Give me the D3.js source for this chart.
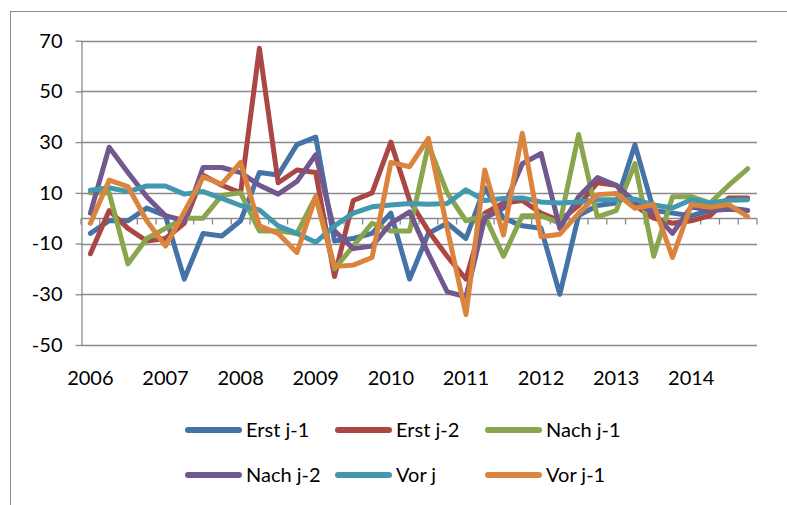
<!DOCTYPE html>
<html lang="de">
<head>
<meta charset="UTF-8" />
<title>Quartalswerte 2006-2014</title>
<script src="https://cdn.jsdelivr.net/npm/d3@7/dist/d3.min.js"></script>
<style>
  body { margin: 0; background: #fff; }
  text { font-family: Lato, "Open Sans", sans-serif; fill: #000; }
</style>
</head>
<body>
<svg id="chart" width="787" height="505"></svg>
<script>
// quarters 2006Q1 .. 2014Q4
var years = ["2006", "2007", "2008", "2009", "2010", "2011", "2012", "2013", "2014"];
var quarters = [];
years.forEach(function(y) { [1, 2, 3, 4].forEach(function(q) { quarters.push(y + "Q" + q); }); });

var seriesNames = ["Erst j-1", "Erst j-2", "Nach j-1", "Nach j-2", "Vor j", "Vor j-1"];
var colors = ["#4572A7", "#AA4643", "#89A54E", "#71588F", "#4198AF", "#DB843D"];

var erstJ1 = [-6, -1, -1, 4, 1, -24, -6, -7, -1, 18, 17, 29, 32, -9, -8, -6, 2, -24,
              -6, -2, -8, 12, 0, -3, -4, -30, 1, 5, 6, 29, 3, 2, 1, 3, 4, 3];
var erstJ2 = [-14, 3, -4, -9, -8, -2, 17, 13, 10, 67, 14, 19, 18, -23, 7, 10, 30, 7,
              -5, -15, -24, 2, 6, 7, 2, -1, 5, 14, 13, 5, 0, -2, -1, 1, 8, 8];
var nachJ1 = [10, 10, -18, -8, -4, 0, 0, 9, 10, -5, -5, -6, 8.5, -20, -11, -2, -5, -5,
              29, 10, -1, 1, -15, 1, 1, -2, 33, 0.5, 3, 21.5, -15, 8.5, 8.5, 6, 13, 19.5];
var nachJ2 = [2, 28, 18, 8.5, 1, -1, 20, 20, 18, 13, 9.5, 14.5, 25, -5, -12, -11, -2, 2.5,
              -14, -29, -31, 0, 4, 21.5, 25.5, -4, 8.5, 16, 13, 6.5, 2, -6, 4.5, 3, 3.5, 3];
var vorJ = [11, 12, 10.5, 12.7, 12.7, 9.5, 10.5, 7.8, 5, 3.3, -3, -6, -9.5, -3, 2, 4.5, 5.2, 5.8,
            5.5, 5.8, 11.2, 7, 7.8, 8, 6.4, 6, 6.4, 7.3, 7.3, 7.5, 5.2, 4, 7.3, 6, 7.1, 7.3];
var vorJ1 = [-2, 15, 12.5, -1, -11, 2.5, 16.3, 13.4, 22, -3, -6, -13.5, 8.5, -19, -18.5, -15.5, 22, 20.3,
             31.5, -4, -38, 19, -6.6, 33.5, -7.3, -6.3, 1.9, 9.3, 9.7, 3.9, 5.4, -15.5, 5.4, 4.3, 5.4, 0.6];

var yTicks = [-50, -30, -10, 10, 30, 50, 70];

var allSeries = [erstJ1, erstJ2, nachJ1, nachJ2, vorJ, vorJ1];

var svg = d3.select("#chart");

// outer chart frame (continues past right/bottom edge)
svg.append("rect")
  .attr("x", 10.5).attr("y", 11.5)
  .attr("width", 800).attr("height", 520)
  .attr("fill", "none").attr("stroke", "#8c8c8c").attr("stroke-width", 1);

var plot = {left: 81, right: 757, top: 40.7, bottom: 345};

var x = d3.scaleBand().domain(d3.range(quarters.length)).range([plot.left, plot.right]).padding(0);
var y = d3.scaleLinear().domain([-50, 70]).range([plot.bottom, plot.top]);
var bw = x.bandwidth();

// horizontal gridlines
svg.append("g").selectAll("line")
  .data(yTicks)
  .enter().append("line")
  .attr("x1", plot.left).attr("x2", plot.right)
  .attr("y1", function(d) { return Math.round(y(d)) + 0.5; })
  .attr("y2", function(d) { return Math.round(y(d)) + 0.5; })
  .attr("stroke", "#8a8a8a").attr("stroke-width", 1.3);

// y axis (plain hyphen for negatives, like the original)
var yAxis = d3.axisLeft(y).tickValues(yTicks).tickSize(6).tickSizeOuter(0).tickPadding(13)
  .tickFormat(function(d) { return String(d); });
var gy = svg.append("g").attr("transform", "translate(" + (plot.left + 0.5) + ",0)").call(yAxis);
gy.select(".domain").attr("stroke", "#8a8a8a").attr("stroke-width", 1.3);
gy.selectAll(".tick line").attr("stroke", "#8a8a8a").attr("stroke-width", 1.3);
gy.selectAll(".tick text").style("font-size", "20px").attr("fill", "#000");

// category axis at zero, ticks between quarters
var zeroY = Math.round(y(0)) + 0.5;
var gx = svg.append("g");
gx.append("line")
  .attr("x1", plot.left).attr("x2", plot.right)
  .attr("y1", zeroY).attr("y2", zeroY)
  .attr("stroke", "#8a8a8a").attr("stroke-width", 1.3);
gx.selectAll("line.tk")
  .data(d3.range(quarters.length + 1))
  .enter().append("line").attr("class", "tk")
  .attr("x1", function(i) { return i < quarters.length ? x(i) : x(i - 1) + bw; })
  .attr("x2", function(i) { return i < quarters.length ? x(i) : x(i - 1) + bw; })
  .attr("y1", zeroY).attr("y2", zeroY + 6)
  .attr("stroke", "#8a8a8a").attr("stroke-width", 1.3);

// year labels under the plot
svg.append("g").selectAll("text")
  .data(years)
  .enter().append("text")
  .attr("x", function(d) { return x(quarters.indexOf(d + "Q1")) + bw / 2; })
  .attr("y", 385)
  .attr("text-anchor", "middle")
  .style("font-size", "20px")
  .text(function(d) { return d; });

// series lines
var line = d3.line()
  .x(function(d, i) { return x(i) + bw / 2; })
  .y(function(d) { return y(d); });

svg.append("g").selectAll("path")
  .data(allSeries)
  .enter().append("path")
  .attr("d", line)
  .attr("fill", "none")
  .attr("stroke", function(d, i) { return colors[i]; })
  .attr("stroke-width", 5)
  .attr("stroke-linejoin", "round")
  .attr("stroke-linecap", "round");

// legend, 3 columns x 2 rows
var legend = svg.append("g").selectAll("g")
  .data(seriesNames)
  .enter().append("g")
  .attr("transform", function(d, i) {
    return "translate(" + (186 + (i % 3) * 150) + "," + (430 + Math.floor(i / 3) * 45) + ")";
  });
legend.append("line")
  .attr("x1", 2).attr("x2", 53).attr("y1", 0).attr("y2", 0)
  .attr("stroke", function(d, i) { return colors[i]; })
  .attr("stroke-width", 6).attr("stroke-linecap", "round");
legend.append("text")
  .attr("x", 60).attr("y", 7)
  .style("font-size", "20px")
  .text(function(d) { return d; });
</script>
</body>
</html>
